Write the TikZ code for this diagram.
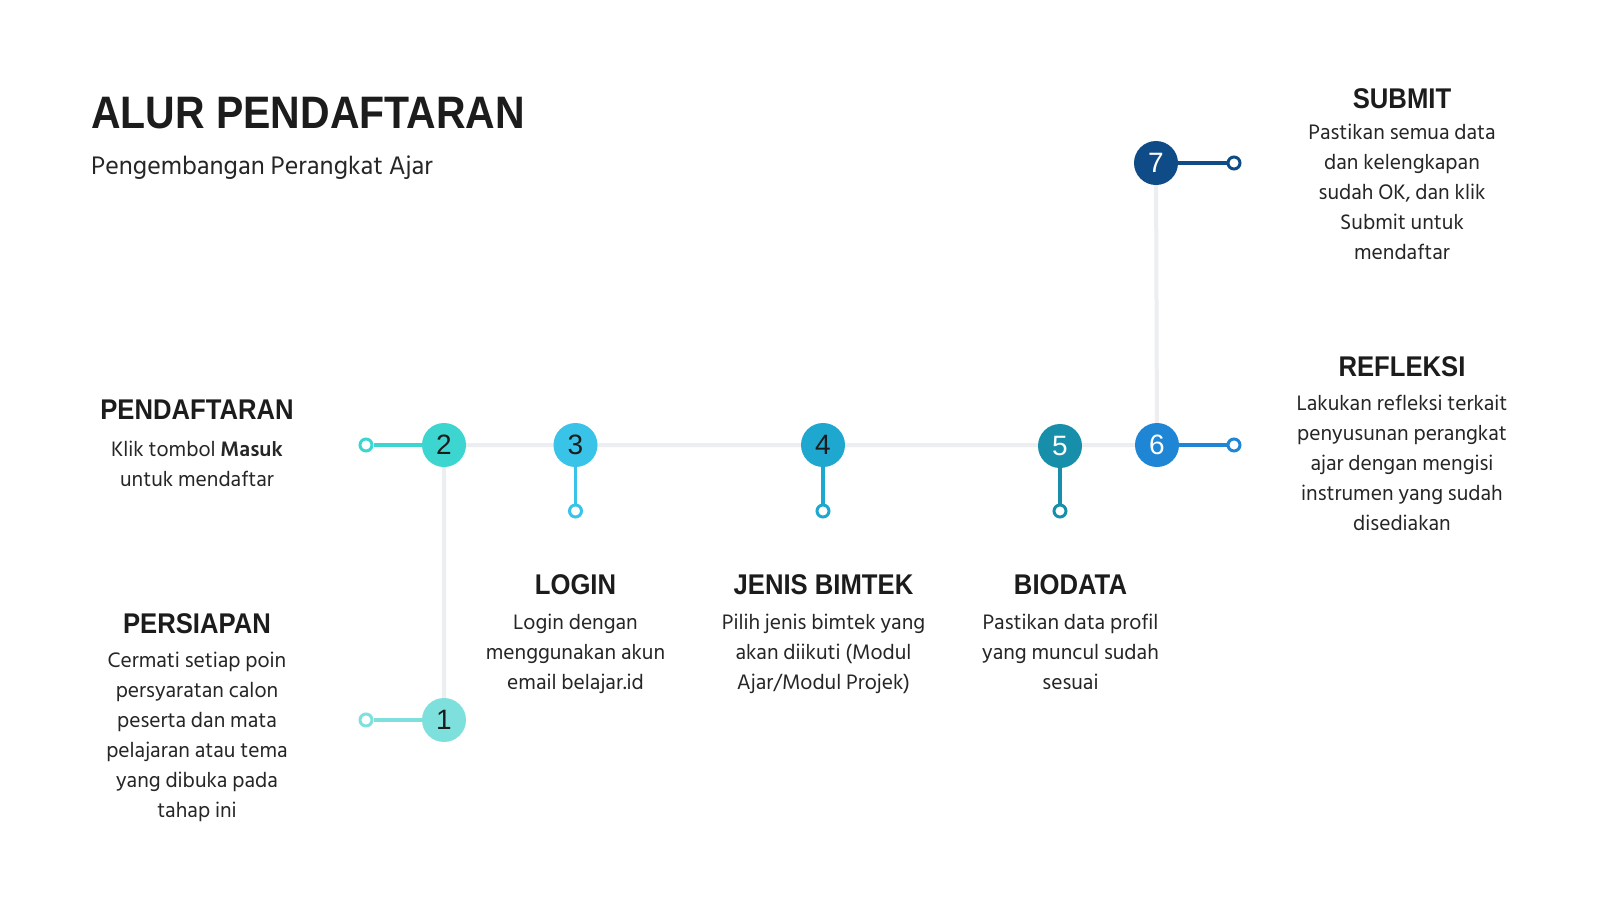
\documentclass[tikz,border=0pt]{standalone}
\usepackage{fontspec}
\setmainfont{Hind Siliguri}
\newfontfamily\headfont[FakeStretch=0.9]{Liberation Sans}
\newfontfamily\numfont{Liberation Sans}
\usetikzlibrary{backgrounds}
\definecolor{cA}{HTML}{7EE0DC}
\definecolor{cB}{HTML}{3DD5D0}
\definecolor{cC}{HTML}{3AC3E9}
\definecolor{cD}{HTML}{1EA7CF}
\definecolor{cE}{HTML}{178FAA}
\definecolor{cF}{HTML}{1E86D5}
\definecolor{cG}{HTML}{0F4C87}
\definecolor{trackgrey}{HTML}{ECEEF2}
\definecolor{ink}{HTML}{1C1C1C}
\definecolor{bodyink}{HTML}{262626}
\tikzset{
  stepdot/.style={circle, minimum size=44pt, inner sep=0pt, fill=#1,
    font=\numfont\fontsize{28}{28}\selectfont},
  enddot/.style={circle, draw=#1, fill=white, line width=3pt, minimum size=12pt, inner sep=0pt},
  track/.style={line width=4pt, draw=trackgrey},
  stub/.style={line width=3.5pt, draw=#1},
  heading/.style={anchor=north, inner sep=0pt, text=ink,
    font=\headfont\bfseries\fontsize{28.5}{30}\selectfont},
  bodytext/.style={anchor=north, inner sep=0pt, align=center, text=bodyink,
    font=\fontsize{21.5}{30}\selectfont}
}
\begin{document}
\begin{tikzpicture}[x=1pt,y=-1pt]
\useasboundingbox (0,0) rectangle (1600,900);
% steps
\node[stepdot=cA, text=ink] (n1) at (444,720) {1};
\node[stepdot=cB, text=ink] (n2) at (444,445) {2};
\node[stepdot=cC, text=ink] (n3) at (575.5,445) {3};
\node[stepdot=cD, text=ink] (n4) at (823,445) {4};
\node[stepdot=cE, text=white] (n5) at (1060,446) {5};
\node[stepdot=cF, text=white] (n6) at (1157,445) {6};
\node[stepdot=cG, text=white] (n7) at (1156,163) {7};
% end dots
\node[enddot=cA] (e1) at (366,720) {};
\node[enddot=cB] (e2) at (366,445) {};
\node[enddot=cC] (e3) at (575.5,511) {};
\node[enddot=cD] (e4) at (823,511) {};
\node[enddot=cE] (e5) at (1060,511) {};
\node[enddot=cF] (e6) at (1234,445) {};
\node[enddot=cG] (e7) at (1234,163) {};
\begin{scope}[on background layer]
\fill[white] (0,0) rectangle (1600,900);
\draw[track] (n1.center) -- (n2.center) -- (n6.center) -- (n7.center);
\draw[stub=cA] (n1) -- (e1);
\draw[stub=cB] (n2) -- (e2);
\draw[stub=cC] (n3) -- (e3);
\draw[stub=cD] (n4) -- (e4);
\draw[stub=cE] (n5) -- (e5);
\draw[stub=cF] (n6) -- (e6);
\draw[stub=cG] (n7) -- (e7);
\end{scope}
% title
\node[anchor=north west, inner sep=0pt, text=ink,
  font=\headfont\bfseries\fontsize{45.5}{45}\selectfont] (title) at (91,97) {ALUR PENDAFTARAN};
\node[anchor=north west, inner sep=0pt, text=bodyink,
  font=\fontsize{26}{28}\selectfont] (subtitle) at (91,156) {Pengembangan Perangkat Ajar};
% texts
\node[heading] (h2) at (197,400) {PENDAFTARAN};
\node[bodytext] (b2) at (197,440.5) {Klik tombol \textbf{Masuk}\\untuk mendaftar};
\node[heading] (h1) at (197,613) {PERSIAPAN};
\node[bodytext] (b1) at (197,652) {Cermati setiap poin\\persyaratan calon\\peserta dan mata\\pelajaran atau tema\\yang dibuka pada\\tahap ini};
\node[heading] (h3) at (575.5,574.5) {LOGIN};
\node[bodytext] (b3) at (575.5,614) {Login dengan\\menggunakan akun\\email belajar.id};
\node[heading] (h4) at (823.5,574.5) {JENIS BIMTEK};
\node[bodytext] (b4) at (823.5,614) {Pilih jenis bimtek yang\\akan diikuti (Modul\\Ajar/Modul Projek)};
\node[heading] (h5) at (1070.5,574.5) {BIODATA};
\node[bodytext] (b5) at (1070.5,614) {Pastikan data profil\\yang muncul sudah\\sesuai};
\node[heading] (h7) at (1402,88) {SUBMIT};
\node[bodytext] (b7) at (1402,124) {Pastikan semua data\\dan kelengkapan\\sudah OK, dan klik\\Submit untuk\\mendaftar};
\node[heading] (h6) at (1402,356) {REFLEKSI};
\node[bodytext] (b6) at (1402,395) {Lakukan refleksi terkait\\penyusunan perangkat\\ajar dengan mengisi\\instrumen yang sudah\\disediakan};
\end{tikzpicture}
\end{document}
